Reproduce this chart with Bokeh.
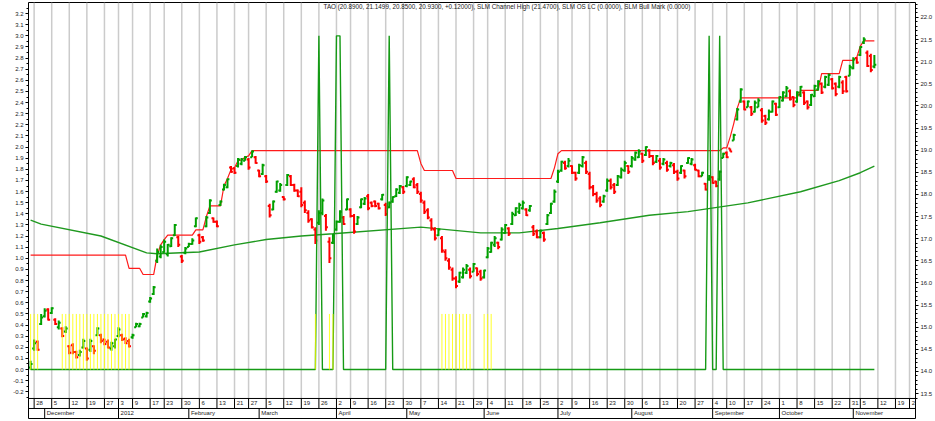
import pandas as pd
from bokeh.plotting import figure
from bokeh.models import Range1d, LinearAxis, SingleIntervalTicker, NumeralTickFormatter, Label
from bokeh.embed import file_html
from bokeh.resources import INLINE
from bokeh.core.properties import value

FONT = "Liberation Sans"

# ---------------- data ----------------
holidays = ["2011-11-24", "2011-12-26", "2012-01-02", "2012-01-16", "2012-02-20", "2012-04-06",
            "2012-05-28", "2012-07-04", "2012-09-03", "2012-10-29", "2012-10-30", "2012-11-22"]
first_day = "2011-11-25"

week_tick_dates = ["2011-11-28", "2011-12-05", "2011-12-12", "2011-12-19", "2011-12-27", "2012-01-03",
                   "2012-01-09", "2012-01-17", "2012-01-23", "2012-01-30", "2012-02-06", "2012-02-13",
                   "2012-02-21", "2012-02-27", "2012-03-05", "2012-03-12", "2012-03-19", "2012-03-26",
                   "2012-04-02", "2012-04-09", "2012-04-16", "2012-04-23", "2012-04-30", "2012-05-07",
                   "2012-05-14", "2012-05-21", "2012-05-29", "2012-06-04", "2012-06-11", "2012-06-18",
                   "2012-06-25", "2012-07-02", "2012-07-09", "2012-07-16", "2012-07-23", "2012-07-30",
                   "2012-08-06", "2012-08-13", "2012-08-20", "2012-08-27", "2012-09-04", "2012-09-10",
                   "2012-09-17", "2012-09-24", "2012-10-01", "2012-10-08", "2012-10-15", "2012-10-22",
                   "2012-10-31", "2012-11-05", "2012-11-12", "2012-11-19", "2012-11-26"]
week_labels = ["28", "5", "12", "19", "27", "3", "9", "17", "23", "30", "6", "13", "21", "27", "5", "12",
               "19", "26", "2", "9", "16", "23", "30", "7", "14", "21", "29", "4", "11", "18", "25", "2",
               "9", "16", "23", "30", "6", "13", "20", "27", "4", "10", "17", "24", "1", "8", "15", "22",
               "31", "5", "12", "19", "26"]
month_dates = ["2011-12-01", "2012-01-03", "2012-02-01", "2012-03-01", "2012-04-02", "2012-05-01",
               "2012-06-01", "2012-07-02", "2012-08-01", "2012-09-04", "2012-10-01", "2012-11-01"]
month_labels = ["December", "2012", "February", "March", "April", "May", "June", "July", "August",
                "September", "October", "November"]

opens = [14.09, 14.52, 14.67, 15.07, 15.25, 15.40, 15.32, 15.17, 15.00, 14.97,
         14.90, 14.57, 14.59, 14.44, 14.37, 14.54, 14.52, 14.49, 14.57, 14.82,
         14.82, 14.72, 14.67, 14.52, 14.57, 14.80, 14.82, 14.74, 14.69, 14.77,
         15.00, 15.02, 15.22, 15.25, 15.58, 15.75, 16.50, 16.60, 16.70, 16.65,
         16.83, 17.08, 17.03, 16.60, 16.68, 16.81, 16.88, 17.28, 17.08, 17.03,
         17.28, 17.58, 17.46, 17.38, 17.76, 18.11, 18.16, 18.61, 18.59, 18.64,
         18.69, 18.76, 18.79, 18.84, 18.84, 18.54, 18.46, 18.41, 17.74, 17.66,
         18.06, 18.09, 17.94, 18.21, 18.41, 18.21, 18.09, 18.06, 17.81, 17.58,
         17.44, 17.21, 17.36, 17.58, 17.51, 16.93, 16.91, 17.21, 17.38, 17.48,
         17.66, 17.66, 17.51, 17.33, 17.71, 17.79, 17.96, 17.81, 17.84, 17.79,
         17.89, 17.76, 17.71, 17.84, 17.96, 18.04, 18.16, 18.19, 18.21, 18.34,
         18.21, 18.01, 17.81, 17.64, 17.41, 17.21, 17.08, 17.01, 16.70, 16.50,
         16.30, 16.10, 16.03, 16.13, 16.23, 16.30, 16.25, 16.33, 16.25, 16.13,
         16.58, 16.70, 16.86, 16.91, 16.98, 17.13, 17.23, 17.33, 17.53, 17.61,
         17.69, 17.66, 17.64, 17.26, 17.16, 17.03, 17.13, 17.33, 17.58, 17.84,
         18.29, 18.54, 18.71, 18.64, 18.64, 18.49, 18.49, 18.64, 18.71, 18.46,
         18.16, 18.01, 17.91, 17.84, 18.09, 18.31, 18.21, 18.21, 18.39, 18.54,
         18.64, 18.64, 18.79, 18.84, 18.92, 18.89, 18.99, 18.87, 18.74, 18.76,
         18.69, 18.71, 18.64, 18.66, 18.51, 18.49, 18.54, 18.71, 18.69, 18.66,
         18.54, 18.41, 18.24, 18.34, 18.39, 18.29, 18.34, 18.82, 18.94, 19.04,
         19.22, 19.70, 20.10, 20.10, 19.97, 19.97, 19.87, 19.97, 19.90, 19.77,
         19.70, 19.87, 20.05, 19.97, 20.12, 20.22, 20.33, 20.20, 20.10, 20.25,
         20.30, 20.10, 20.02, 20.22, 20.37, 20.50, 20.43, 20.48, 20.60, 20.50,
         20.43, 20.53, 20.65, 20.68, 20.85, 21.08, 21.15, 21.43, 21.20, 21.13,
         20.89]
highs = [14.24, 14.72, 14.70, 15.30, 15.43, 15.43, 15.45, 15.20, 15.15, 15.00,
         15.02, 14.59, 14.64, 14.47, 14.49, 14.74, 14.54, 14.74, 14.59, 15.00,
         14.85, 14.74, 14.72, 14.67, 14.74, 15.00, 14.85, 14.77, 14.74, 14.85,
         15.10, 15.10, 15.32, 15.35, 15.68, 15.93, 16.78, 16.86, 16.98, 16.88,
         17.03, 17.33, 17.06, 16.63, 16.81, 16.91, 17.01, 17.48, 17.11, 17.06,
         17.51, 17.89, 17.48, 17.41, 17.86, 18.24, 18.36, 18.64, 18.61, 18.82,
         18.82, 18.87, 18.82, 18.99, 18.87, 18.56, 18.69, 18.44, 17.79, 17.86,
         18.31, 18.26, 17.96, 18.46, 18.44, 18.24, 18.11, 18.16, 17.86, 17.64,
         17.46, 17.26, 17.64, 17.91, 17.56, 17.03, 17.11, 17.41, 17.64, 17.51,
         17.91, 17.69, 17.56, 17.51, 17.91, 17.94, 18.01, 17.84, 17.86, 17.81,
         18.01, 17.81, 17.84, 17.96, 18.14, 18.21, 18.19, 18.41, 18.31, 18.39,
         18.26, 18.06, 17.86, 17.69, 17.46, 17.26, 17.23, 17.06, 16.76, 16.56,
         16.35, 16.15, 16.25, 16.35, 16.43, 16.35, 16.45, 16.35, 16.30, 16.30,
         16.81, 16.93, 17.06, 16.93, 17.26, 17.33, 17.26, 17.61, 17.71, 17.81,
         17.86, 17.69, 17.76, 17.31, 17.21, 17.21, 17.16, 17.56, 17.81, 18.11,
         18.56, 18.76, 18.76, 18.82, 18.66, 18.51, 18.69, 18.87, 18.76, 18.51,
         18.21, 18.06, 17.96, 17.99, 18.36, 18.36, 18.26, 18.44, 18.61, 18.76,
         18.66, 18.87, 18.97, 19.02, 18.94, 19.09, 19.02, 18.89, 18.89, 18.82,
         18.82, 18.76, 18.74, 18.71, 18.56, 18.66, 18.56, 18.84, 18.82, 18.69,
         18.56, 18.51, 18.26, 18.44, 18.41, 18.31, 18.54, 18.94, 18.97, 19.04,
         19.37, 19.95, 20.40, 20.12, 20.12, 20.00, 20.12, 20.17, 19.95, 19.80,
         19.92, 20.12, 20.07, 20.22, 20.33, 20.45, 20.37, 20.22, 20.33, 20.45,
         20.33, 20.12, 20.27, 20.48, 20.58, 20.53, 20.68, 20.73, 20.63, 20.53,
         20.68, 20.58, 20.68, 20.93, 21.10, 21.10, 21.35, 21.55, 21.25, 21.18,
         21.15]
lows = [14.04, 14.47, 14.47, 15.05, 15.22, 15.15, 15.30, 15.05, 14.95, 14.77,
        14.87, 14.39, 14.39, 14.29, 14.34, 14.52, 14.24, 14.44, 14.39, 14.80,
        14.64, 14.59, 14.52, 14.47, 14.52, 14.77, 14.69, 14.62, 14.54, 14.74,
        15.00, 15.00, 15.22, 15.22, 15.55, 15.73, 16.45, 16.56, 16.68, 16.60,
        16.81, 17.06, 16.81, 16.45, 16.65, 16.81, 16.86, 17.26, 16.88, 16.93,
        17.26, 17.56, 17.36, 17.26, 17.74, 18.09, 18.14, 18.49, 18.46, 18.61,
        18.66, 18.76, 18.56, 18.84, 18.69, 18.39, 18.44, 18.26, 17.48, 17.64,
        18.04, 18.06, 17.86, 18.19, 18.19, 18.06, 17.94, 17.71, 17.58, 17.36,
        17.23, 16.88, 17.31, 17.53, 17.18, 16.45, 16.88, 17.18, 17.36, 17.31,
        17.64, 17.48, 17.11, 17.31, 17.69, 17.76, 17.64, 17.71, 17.71, 17.66,
        17.86, 17.51, 17.69, 17.81, 17.94, 18.01, 18.01, 18.16, 18.19, 18.14,
        18.01, 17.81, 17.56, 17.44, 17.18, 16.96, 17.06, 16.68, 16.50, 16.30,
        16.05, 15.88, 16.00, 16.10, 16.20, 16.10, 16.25, 16.15, 16.05, 16.10,
        16.56, 16.68, 16.81, 16.76, 16.96, 17.11, 17.06, 17.31, 17.51, 17.56,
        17.66, 17.51, 17.61, 17.06, 17.01, 17.01, 16.93, 17.31, 17.56, 17.81,
        18.26, 18.51, 18.56, 18.61, 18.46, 18.31, 18.46, 18.61, 18.46, 18.11,
        17.96, 17.81, 17.71, 17.81, 18.06, 18.11, 18.01, 18.19, 18.36, 18.51,
        18.46, 18.61, 18.76, 18.82, 18.71, 18.87, 18.82, 18.66, 18.71, 18.56,
        18.66, 18.51, 18.61, 18.46, 18.31, 18.46, 18.36, 18.69, 18.66, 18.54,
        18.39, 18.41, 18.09, 18.31, 18.24, 18.16, 18.31, 18.82, 18.82, 18.97,
        19.22, 19.67, 20.07, 19.90, 19.97, 19.77, 19.85, 19.97, 19.62, 19.57,
        19.67, 19.85, 19.77, 19.95, 20.10, 20.20, 20.12, 19.97, 20.07, 20.20,
        20.02, 19.92, 20.00, 20.20, 20.35, 20.27, 20.40, 20.45, 20.37, 20.22,
        20.40, 20.27, 20.30, 20.68, 20.83, 20.95, 21.13, 21.40, 20.88, 20.76,
        20.85]
closes = [14.17, 14.64, 14.49, 15.22, 15.37, 15.17, 15.43, 15.07, 15.10, 14.80,
          14.97, 14.42, 14.44, 14.32, 14.44, 14.69, 14.29, 14.69, 14.47, 14.97,
          14.69, 14.62, 14.54, 14.64, 14.72, 14.95, 14.72, 14.64, 14.57, 14.82,
          15.07, 15.07, 15.30, 15.32, 15.65, 15.90, 16.70, 16.81, 16.93, 16.86,
          17.01, 17.31, 16.86, 16.50, 16.78, 16.88, 16.96, 17.46, 16.93, 16.96,
          17.48, 17.86, 17.38, 17.28, 17.84, 18.21, 18.34, 18.51, 18.49, 18.79,
          18.79, 18.84, 18.61, 18.97, 18.71, 18.41, 18.66, 18.29, 17.53, 17.84,
          18.29, 18.21, 17.89, 18.44, 18.21, 18.09, 17.96, 17.76, 17.64, 17.41,
          17.26, 16.96, 17.58, 17.86, 17.26, 16.56, 17.08, 17.38, 17.61, 17.33,
          17.89, 17.51, 17.16, 17.48, 17.89, 17.91, 17.69, 17.74, 17.74, 17.69,
          17.99, 17.56, 17.81, 17.94, 18.11, 18.19, 18.06, 18.39, 18.29, 18.16,
          18.06, 17.86, 17.61, 17.48, 17.23, 17.01, 17.21, 16.73, 16.56, 16.35,
          16.10, 15.93, 16.23, 16.30, 16.38, 16.15, 16.43, 16.20, 16.10, 16.28,
          16.78, 16.91, 17.01, 16.81, 17.21, 17.31, 17.11, 17.56, 17.69, 17.76,
          17.81, 17.53, 17.74, 17.11, 17.03, 17.18, 16.98, 17.53, 17.79, 18.06,
          18.51, 18.74, 18.59, 18.76, 18.49, 18.36, 18.66, 18.84, 18.51, 18.16,
          18.01, 17.86, 17.76, 17.96, 18.31, 18.16, 18.06, 18.41, 18.56, 18.71,
          18.51, 18.82, 18.94, 18.97, 18.76, 19.07, 18.87, 18.71, 18.87, 18.61,
          18.79, 18.56, 18.71, 18.51, 18.36, 18.64, 18.41, 18.82, 18.79, 18.56,
          18.41, 18.49, 18.11, 18.41, 18.26, 18.19, 18.51, 18.92, 18.84, 18.97,
          19.34, 19.92, 20.37, 19.92, 20.10, 19.82, 20.07, 20.12, 19.67, 19.62,
          19.87, 20.10, 19.80, 20.20, 20.30, 20.40, 20.15, 20.02, 20.30, 20.43,
          20.07, 19.97, 20.25, 20.45, 20.55, 20.30, 20.65, 20.70, 20.40, 20.27,
          20.65, 20.33, 20.33, 20.88, 21.05, 20.98, 21.33, 21.50, 20.90, 20.81,
          20.93]

# SLM Channel High, one value per trading day (flat runs)
channel_high = ([16.63] * 28 + [16.33] * 4 + [16.19] * 4 + [16.63, 16.86, 16.98] + [17.08] * 8 +
                [17.20] * 3 + [17.50] + [17.74] * 4 +
                [18.19, 18.36, 18.56, 18.60, 18.76, 18.78, 18.84, 18.87] + [18.99] * 48 + [18.70] +
                [18.54] * 9 + [18.36] * 28 + [18.60, 18.92] + [18.99] * 46 + [19.05] * 2 +
                [19.30, 19.60, 19.95] + [20.18] * 17 + [20.35] * 6 + [20.73] * 6 + [21.03] * 4 +
                [21.10, 21.35] + [21.47] * 4)

# long moving average (price), read at selected trading days
ma_days = [0, 3, 20, 33, 36, 48, 58, 67, 77, 86, 111, 128, 139, 150, 162, 176, 187, 204, 219, 230, 236, 240]
ma_values = [17.42, 17.33, 17.06, 16.68, 16.66, 16.70, 16.86, 16.98, 17.06, 17.11, 17.26, 17.13, 17.13,
             17.23, 17.36, 17.53, 17.61, 17.81, 18.06, 18.31, 18.49, 18.64]

# SLM OS LC (left scale): breakpoints of the 0 / 3 signal line
os_lc_days = [0, 81, 82, 83, 86, 87, 88, 89, 101, 102, 103, 192, 193, 194, 195, 196, 197, 240]
os_lc_values = [0, 0, 3, 0, 0, 3, 3, 0, 0, 3, 0, 0, 3, 0, 0, 3, 0, 0]

# SLM Bull Mark (left scale): days with a 0.5 mark
bull_days = [0, 1, 2, 9, 10, 11, 12, 13, 14, 15, 16, 17, 18, 19, 20, 21, 22, 23, 24, 25, 26, 27, 28,
             81, 85, 86, 117, 118, 119, 120, 121, 122, 123, 124, 125, 129, 130, 131]
bull_value = 0.5

title_text = ("TAO (20.8900, 21.1499, 20.8500, 20.9300, +0.12000), SLM Channel High (21.4700), "
              "SLM OS LC (0.0000), SLM Bull Mark (0.0000)")

# ---------------- calendar (trading-day axis) ----------------
cal = pd.bdate_range(first_day, "2012-12-31")
cal = cal[~cal.isin(pd.to_datetime(holidays))]
pos = {d: i for i, d in enumerate(cal)}


def tpos(s):
    return pos[pd.Timestamp(s)]


wk = [tpos(d) for d in week_tick_dates]
mo = [tpos(d) for d in month_dates]
n = len(closes)
xs = list(range(n))

X0, X1 = -0.6, 251.7
Y_BOT, Y_TOP = -0.44, 3.30
AX_Y = -0.26       # bottom of price area
ROW_Y = -0.35      # separator between week row and month row

p = figure(width=935, height=421, x_range=Range1d(X0, X1), y_range=Range1d(Y_BOT, Y_TOP),
           output_backend="svg", toolbar_location=None, x_axis_location=None,
           min_border_left=28, min_border_right=8, min_border_top=2, min_border_bottom=3)
p.extra_y_ranges = {"price": Range1d(12.937, 22.336)}
p.grid.visible = False
p.outline_line_color = "black"
p.outline_line_width = 1
p.background_fill_color = "white"
p.border_fill_color = "white"

la = p.yaxis[0]
la.ticker = SingleIntervalTicker(interval=0.1, num_minor_ticks=2)
la.formatter = NumeralTickFormatter(format="0.0")
la.bounds = (-0.255, 3.29)

ra = LinearAxis(y_range_name="price", ticker=SingleIntervalTicker(interval=0.5, num_minor_ticks=5),
                formatter=NumeralTickFormatter(format="0.0"), bounds=(13.40, 22.3))
p.add_layout(ra, "right")

for ax in (la, ra):
    ax.major_label_text_font = FONT
    ax.major_label_text_font_size = "6px"
    ax.major_label_text_color = "#222222"
    ax.major_tick_out = 3
    ax.major_tick_in = 0
    ax.minor_tick_out = 2
    ax.minor_tick_in = 0
    ax.major_label_standoff = 2
    ax.axis_label_standoff = 0
    ax.axis_line_color = "black"
    ax.major_tick_line_color = "black"
    ax.minor_tick_line_color = "black"

# vertical week grid lines
p.segment(x0=wk, y0=[AX_Y] * len(wk), x1=wk, y1=[Y_TOP] * len(wk), line_color="#cbcbcb", line_width=1.5)

# moving average and channel high (price scale)
p.line(ma_days, ma_values, line_color="#1f991f", line_width=1.4, y_range_name="price")
p.line(xs, channel_high, line_color="#ff1a1a", line_width=1.2, y_range_name="price")

# OHLC bars
colors = ["#00a000" if c >= o else "#ff0000" for o, c in zip(opens, closes)]
p.segment(x0=xs, y0=lows, x1=xs, y1=highs, line_color=colors, line_width=2, y_range_name="price")
p.segment(x0=[i - 0.55 for i in xs], y0=opens, x1=xs, y1=opens, line_color=colors, line_width=2,
          y_range_name="price")
p.segment(x0=xs, y0=closes, x1=[i + 0.55 for i in xs], y1=closes, line_color=colors, line_width=2,
          y_range_name="price")

# SLM OS LC and SLM Bull Mark (left scale)
p.line(os_lc_days, os_lc_values, line_color="#159a15", line_width=1.4)
p.segment(x0=bull_days, y0=[0] * len(bull_days), x1=bull_days, y1=[bull_value] * len(bull_days),
          line_color="#ffff00", line_width=1, line_alpha=0.85)

# date rows below the price area
p.segment(x0=[X0, X0], y0=[AX_Y, ROW_Y], x1=[X1, X1], y1=[AX_Y, ROW_Y], line_color="black", line_width=1)
p.segment(x0=wk, y0=[ROW_Y] * len(wk), x1=wk, y1=[AX_Y] * len(wk), line_color="black", line_width=1)
p.text(x=[w + 0.6 for w in wk], y=[(AX_Y + ROW_Y) / 2] * len(wk), text=week_labels,
       text_font=value(FONT), text_font_size="6px", text_color="#222222",
       text_align="left", text_baseline="middle")
p.segment(x0=mo, y0=[Y_BOT] * len(mo), x1=mo, y1=[ROW_Y] * len(mo), line_color="black", line_width=1)
p.text(x=[m + 0.6 for m in mo], y=[(ROW_Y + Y_BOT) / 2] * len(mo), text=month_labels,
       text_font=value(FONT), text_font_size="6px", text_color="#222222",
       text_align="left", text_baseline="middle")

p.add_layout(Label(x=135.5, y=3.265, text=title_text, text_font=FONT, text_font_size="6.3px",
                   text_color="#222222", text_align="center", text_baseline="middle"))

open("out.html", "w").write(file_html(p, INLINE))
